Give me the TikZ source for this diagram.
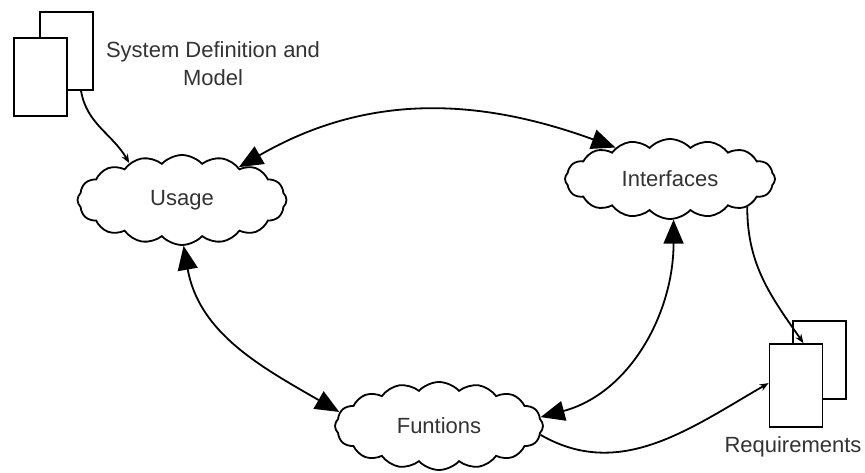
\documentclass[tikz,border=0pt]{standalone}
\usepackage{fontspec}
\setmainfont{Liberation Sans}
\usetikzlibrary{shapes.symbols,arrows.meta}

\tikzset{
    blob/.style={cloud, cloud puffs=16, cloud puff arc=95, cloud ignores aspect,
        draw, line width=1.8pt, fill=white, text=black!80,
        font=\fontsize{22}{26}\selectfont},
    page/.style={draw, fill=white, line width=1.8pt, inner sep=0pt,
        minimum width=53pt, minimum height=78pt},
    caption/.style={text=black!80, align=center, font=\fontsize{22}{28}\selectfont},
    link/.style={line width=1.8pt},
    bothbig/.style={link, {Triangle[length=24pt,width=20pt]}-{Triangle[length=24pt,width=20pt]}},
    tosmall/.style={link, -{Stealth[length=9pt,width=7pt]}}
}

\begin{document}
\begin{tikzpicture}[x=1pt, y=-1pt]
    \useasboundingbox (0,0) rectangle (865,473);
    % document icons
    \node[page] (sysBack) at (66.5,51) {};
    \node[page] (sysFront) at (40.5,77) {};
    \node[caption] (sysText) at (213,64) {System Definition and\\Model};
    \node[page] (reqBack) at (819.5,360) {};
    \node[page, minimum height=83pt] (reqFront) at (796,385.5) {};
    \node[caption] (reqText) at (793,447) {Requirements};
    % clouds
    \node[blob, minimum width=209pt, minimum height=90pt] (usage) at (182,200) {Usage};
    \node[blob, minimum width=210pt, minimum height=80pt] (interfaces) at (670,179) {Interfaces};
    \node[blob, minimum width=208pt, minimum height=88pt] (funtions) at (439,426) {Funtions};
    % connectors
    \draw[tosmall] (sysBack.-70) to[out=-80,in=120] (usage.145);
    \draw[bothbig] (usage.30) to[out=30,in=160] (interfaces.150);
    \draw[bothbig] (usage.-88) to[out=-80,in=150] (funtions.172);
    \draw[bothbig] (interfaces.-85) to[out=-90,in=15] (funtions.5);
    \draw[tosmall] (funtions.-5) to[out=-30,in=-150] (reqFront.175);
    \draw[tosmall] (interfaces.-20) to[out=-90,in=125] (reqFront.80);
\end{tikzpicture}
\end{document}
